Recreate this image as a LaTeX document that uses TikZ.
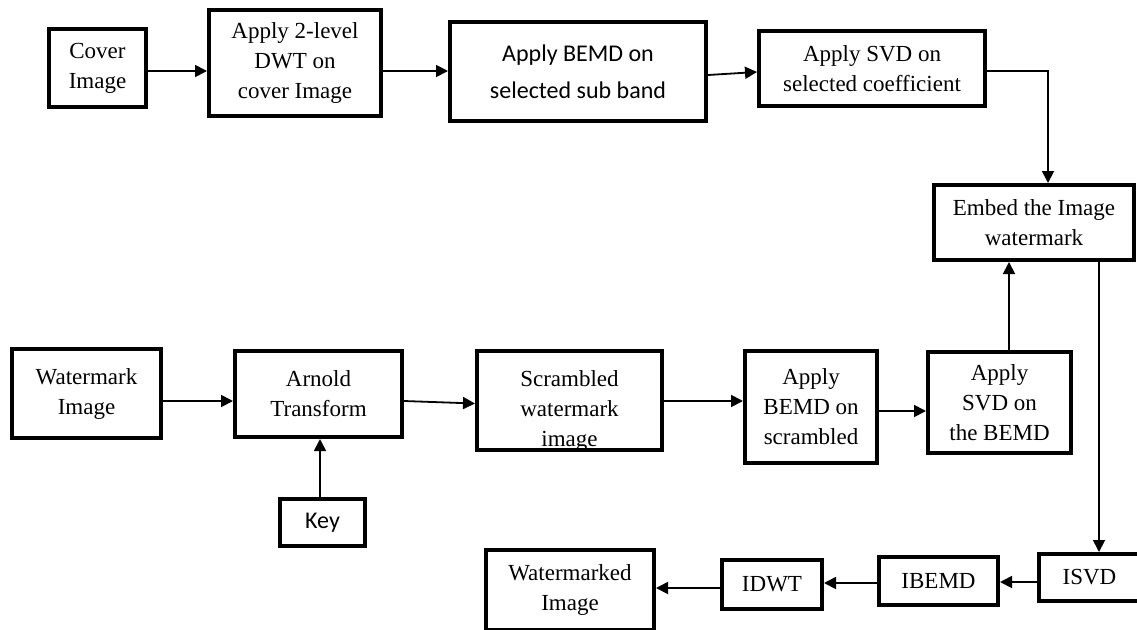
\documentclass[tikz,border=0pt]{standalone}
\usepackage{fontspec}
\setmainfont{Liberation Serif}
\newfontfamily\calibri{Carlito}
\usetikzlibrary{arrows.meta,calc}
\begin{document}
\begin{tikzpicture}[x=1pt,y=-1pt,
  box/.style={draw, line width=4pt, rectangle, inner sep=0pt, align=center,
              font=\fontsize{23}{30}\selectfont},
  txt/.style={inner sep=0pt, align=center, font=\fontsize{23}{30}\selectfont},
  arr/.style={line width=1.8pt, -{Triangle[length=12pt,width=12pt]}},
  ln/.style={line width=1.8pt}]
\useasboundingbox (0,0) rectangle (1137,629);
% top row
\node[box, minimum width=97pt, minimum height=78pt] (cover) at (97.5,68) {Cover\\Image};
\node[box, minimum width=172pt, minimum height=106pt] (dwt) at (295,63) {Apply 2-level\\DWT on\\cover Image};
\node[box, minimum width=256pt, minimum height=99pt, font=\calibri\fontsize{24}{37}\selectfont] (bemd) at (578,71.5) {Apply BEMD on\\selected sub band};
\node[box, minimum width=226pt, minimum height=75pt] (svd) at (872,68.5) {Apply SVD on\\selected coefficient};
\node[box, minimum width=200pt, minimum height=75pt] (embed) at (1034,222.5) {Embed the Image\\watermark};
% middle row
\node[box, minimum width=149pt, minimum height=89pt] (wm) at (86.5,393.5) {Watermark\\Image};
\node[box, minimum width=167pt, minimum height=86pt] (arnold) at (318.5,394) {Arnold\\Transform};
\node[box, minimum width=85pt, minimum height=47pt, font=\calibri\fontsize{24}{29}\selectfont] (key) at (322.5,522.5) {Key};
\node[box, minimum width=185pt, minimum height=99pt] (scr) at (569.5,400.5) {};
\begin{scope}
  \clip ([xshift=2pt,yshift=-2pt]scr.north west) rectangle ([xshift=-2pt,yshift=5pt]scr.south east);
  \node[txt] (scrtext) at (569.5,411) {Scrambled\\watermark\\image};
\end{scope}
\node[box, minimum width=132pt, minimum height=112pt] (bemdtwo) at (811,407) {Apply\\BEMD on\\scrambled};
\node[box, minimum width=143pt, minimum height=101pt] (svdtwo) at (999.5,402.5) {Apply\\SVD on\\the BEMD};
% bottom row
\node[box, minimum width=109pt, minimum height=47pt] (isvd) at (1093.5,577.5) {\hspace*{-8pt}ISVD};
\node[box, minimum width=119pt, minimum height=48pt] (ibemd) at (938.5,581) {IBEMD};
\node[box, minimum width=100pt, minimum height=49pt] (idwt) at (772,584.5) {IDWT};
\node[box, minimum width=168pt, minimum height=80pt] (wmd) at (570,590) {Watermarked\\Image};
% connectors
\draw[arr] ([yshift=-3pt]cover.east) -- ([yshift=-3pt]cover.east -| dwt.west);
\draw[arr] ([yshift=-8pt]dwt.east) -- ([yshift=-8pt]dwt.east -| bemd.west);
\draw[arr] ([yshift=-3.5pt]bemd.east) -- ([yshift=-3.5pt]svd.west);
\draw[arr] ([yshift=-2.5pt]svd.east) -| ([xshift=14pt]embed.north);
\draw[arr] ([yshift=-7.5pt]wm.east) -- ([yshift=-7.5pt]wm.east -| arnold.west);
\draw[arr] ([xshift=-2.5pt]key.north) -- ([xshift=-2.5pt]key.north |- arnold.south);
\draw[arr] ([yshift=-7pt]arnold.east) -- ([yshift=-3pt]scr.west);
\draw[arr] ([yshift=-0.5pt]scr.east) -- ([yshift=-0.5pt]scr.east -| bemdtwo.west);
\draw[arr] ([yshift=-4pt]bemdtwo.east) -- ([yshift=-4pt]bemdtwo.east -| svdtwo.west);
\draw[arr] ([xshift=9.5pt]svdtwo.north) -- ([xshift=9.5pt]svdtwo.north |- embed.south);
\draw[arr] ([xshift=65pt]embed.south) -- ([xshift=65pt]embed.south |- isvd.north);
\draw[arr] ([yshift=-4.5pt]isvd.west) -- ([yshift=-4.5pt]isvd.west -| ibemd.east);
\draw[arr] ([yshift=-2pt]ibemd.west) -- ([yshift=-2pt]ibemd.west -| idwt.east);
\draw[arr] ([yshift=-3.5pt]idwt.west) -- ([yshift=-3.5pt]idwt.west -| wmd.east);
\end{tikzpicture}
\end{document}
